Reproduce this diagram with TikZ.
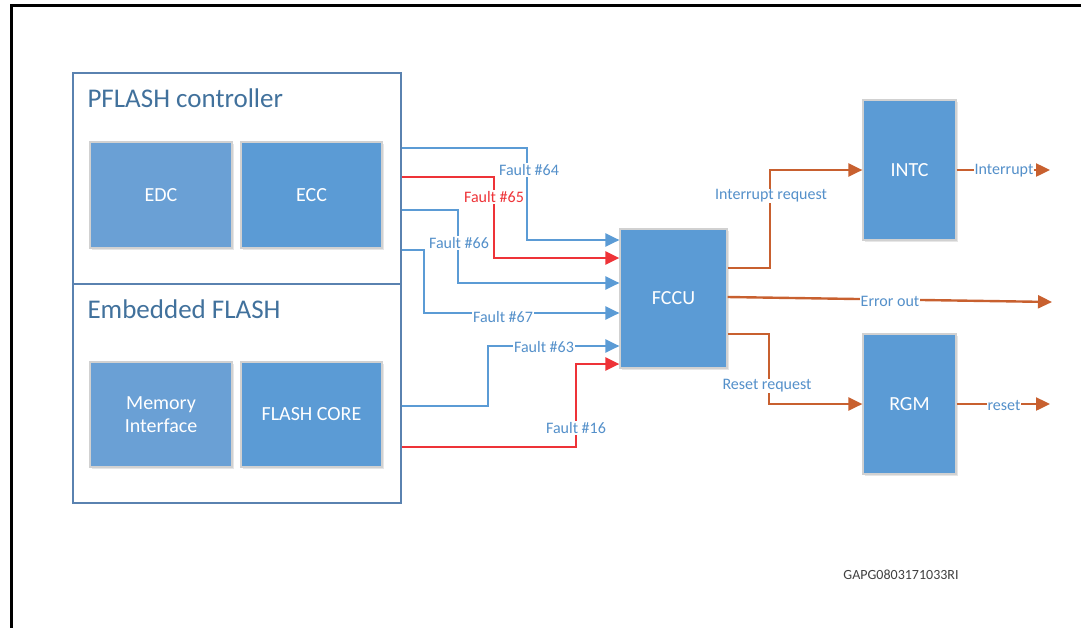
\documentclass[tikz,border=0pt]{standalone}
\usepackage{fontspec}
\setmainfont{Carlito}
\usetikzlibrary{arrows.meta,positioning,shadows}
\definecolor{blkfill}{HTML}{5B9BD5}
\definecolor{blkfilllt}{HTML}{6AA0D5}
\definecolor{frameblue}{HTML}{5A82B0}
\definecolor{titleink}{HTML}{41719C}
\definecolor{labink}{HTML}{5490CA}
\definecolor{faultred}{HTML}{EE3338}
\definecolor{reqorange}{HTML}{C8602F}

\begin{document}
\begin{tikzpicture}[x=1pt,y=-1pt,
 grp/.style={draw=frameblue,line width=1.5pt,anchor=north west,inner sep=0pt},
 ttl/.style={anchor=base west,text=titleink,font=\fontsize{27}{32}\selectfont},
 blk/.style={fill=blkfill,draw=black!18,line width=1.2pt,text=white,align=center,inner sep=0pt,
  font=\fontsize{20}{23}\selectfont,drop shadow={opacity=.2,shadow xshift=2pt,shadow yshift=-2pt}},
 flt/.style={draw=blkfill,line width=2.2pt,-{Triangle[length=14pt,width=13pt]}},
 fltr/.style={draw=faultred,line width=2.6pt,-{Triangle[length=14pt,width=13pt]}},
 req/.style={draw=reqorange,line width=2.4pt,-{Triangle[length=14pt,width=13pt]}},
 lab/.style={fill=white,inner sep=1pt,text=labink,font=\fontsize{16}{19}\selectfont}]
\useasboundingbox (0,0) rectangle (1083,627);
\draw[line width=3pt] (1081,5.5) -- (11,5.5) -- (11,628);
\node[grp,minimum width=328pt,minimum height=211pt] (pflash) at (72,72) {};
\node[grp,minimum width=328pt,minimum height=219pt] (eflash) at (72,283) {};
\node[ttl] at (84,107) {PFLASH controller};
\node[ttl] at (84,318) {Embedded FLASH};
\node[blk,fill=blkfilllt,minimum width=142pt,minimum height=106pt] (edc) at (161,195) {EDC};
\node[blk,minimum width=141pt,minimum height=106pt] (ecc) at (311.5,195) {ECC};
\node[blk,fill=blkfilllt,minimum width=142pt,minimum height=105pt] (memif) at (161,414.5) {Memory\\Interface};
\node[blk,minimum width=141pt,minimum height=105pt] (core) at (311.5,414.5) {FLASH CORE};
\node[blk,minimum width=107pt,minimum height=139pt] (fccu) at (673.5,298.5) {FCCU};
\node[blk,minimum width=93pt,minimum height=140pt] (intc) at (909.5,170) {INTC};
\node[blk,minimum width=93pt,minimum height=140pt] (rgm) at (909.5,404) {RGM};
\coordinate (f64) at (pflash.east |- 0,148);
\coordinate (f65) at (pflash.east |- 0,177);
\coordinate (f66) at (pflash.east |- 0,210);
\coordinate (f67) at (pflash.east |- 0,250);
\coordinate (f63) at (eflash.east |- 0,406);
\coordinate (f16) at (eflash.east |- 0,447);
\coordinate (errend) at (1052,302);
\coordinate (irqend) at (1050,170);
\coordinate (rstend) at (1050,404);
\draw[flt] (f64) -| (527,240) -- (fccu.west |- 0,240);
\draw[fltr] (f65) -| (494,258) -- (fccu.west |- 0,258);
\draw[flt] (f66) -| (458,283) -- (fccu.west |- 0,283);
\draw[flt] (f67) -| (424,313) -- (fccu.west |- 0,313);
\draw[flt] (f63) -| (488,346) -- (fccu.west |- 0,346);
\draw[fltr] (f16) -| (576,364) -- (fccu.west |- 0,364);
\draw[req] (fccu.east |- 0,268) -| (770,170) -- (intc.west);
\draw[req] (fccu.east |- 0,297) -- (errend);
\draw[req] (fccu.east |- 0,334) -| (769,404) -- (rgm.west);
\draw[req] (intc.east) -- (irqend);
\draw[req] (rgm.east) -- (rstend);
\node[lab] (l64) at (529,170) {Fault \#64};
\node[lab,text=faultred] (l65) at (494,197) {Fault \#65};
\node[lab] (l66) at (459,243) {Fault \#66};
\node[lab] (l67) at (503,317) {Fault \#67};
\node[lab] (l63) at (544,347) {Fault \#63};
\node[lab] (l16) at (576,428) {Fault \#16};
\node[lab] (lirq) at (771,196) {Interrupt request};
\node[lab] (lerr) at (890,301) {Error out};
\node[lab] (lrst) at (767,386) {Reset request};
\node[lab] (lint) at (1004,171) {Interrupt};
\node[lab] (lreset) at (1004,405) {reset};
\node[text=black!75,font=\fontsize{14}{17}\selectfont] (figid) at (901,575) {GAPG0803171033RI};
\end{tikzpicture}
\end{document}
